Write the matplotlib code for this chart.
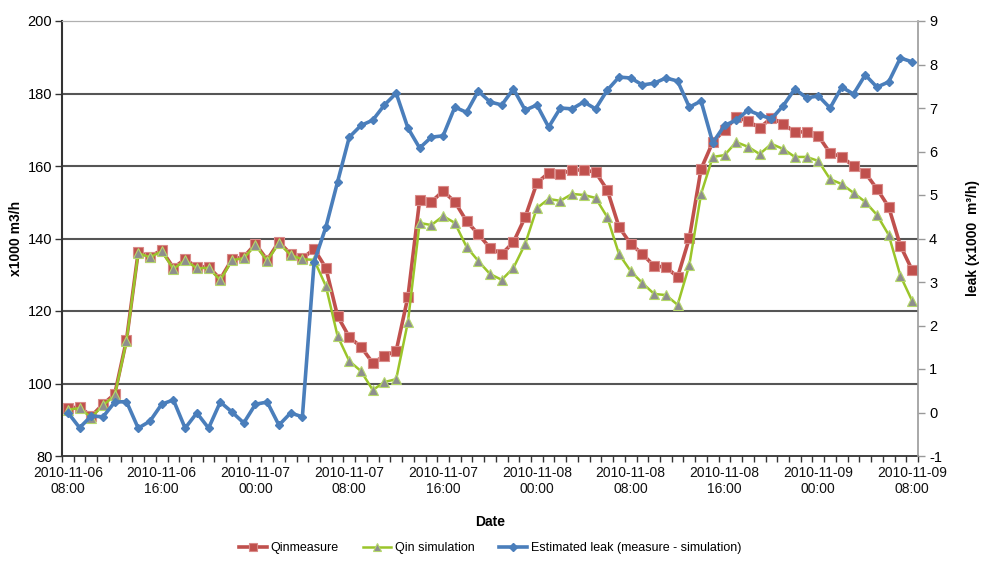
import matplotlib
matplotlib.use("Agg")
import matplotlib.pyplot as plt
from matplotlib.ticker import FixedLocator
import numpy as np

plt.rcParams['font.family'] = ['Liberation Sans', 'DejaVu Sans']
plt.rcParams['axes.unicode_minus'] = False

# hourly categories 2010-11-06 08:00 ... 2010-11-09 08:00 (73 points)
n_points = 73
tick_positions = [0, 8, 16, 24, 32, 40, 48, 56, 64, 72]
tick_labels = ["2010-11-06\n08:00", "2010-11-06\n16:00", "2010-11-07\n00:00",
               "2010-11-07\n08:00", "2010-11-07\n16:00", "2010-11-08\n00:00",
               "2010-11-08\n08:00", "2010-11-08\n16:00", "2010-11-09\n00:00",
               "2010-11-09\n08:00"]

q_measure = [93.2, 93.5, 91.0, 94.3, 97.1, 112.0, 136.3, 135.0, 136.8, 131.9,
             134.3, 132.1, 132.2, 128.8, 134.3, 134.9, 138.5, 134.1, 139.1, 135.7,
             134.5, 137.1, 131.9, 118.6, 112.8, 110.1, 105.7, 107.6, 109.0, 123.9,
             150.6, 150.1, 153.1, 150.1, 144.8, 141.2, 137.4, 135.7, 139.0, 145.9,
             155.3, 158.1, 157.8, 158.9, 158.9, 158.3, 153.4, 143.2, 138.5, 135.7,
             132.4, 132.1, 129.4, 140.1, 159.2, 166.6, 169.9, 173.4, 172.4, 170.5,
             173.3, 171.6, 169.4, 169.4, 168.3, 163.6, 162.5, 160.0, 158.1, 153.7,
             148.7, 138.0, 131.3]

q_simulation = [92.8, 93.2, 90.6, 94.0, 96.7, 111.7, 136.0, 134.8, 136.5, 131.6,
                134.0, 131.8, 131.9, 128.5, 134.0, 134.6, 138.2, 133.8, 138.8, 135.4,
                134.3, 134.1, 126.9, 113.1, 106.2, 103.4, 98.2, 100.4, 101.2, 117.0,
                144.3, 143.7, 146.2, 144.3, 137.7, 133.8, 130.2, 128.6, 131.9, 138.5,
                148.4, 150.9, 150.4, 152.3, 152.0, 151.2, 145.9, 135.7, 131.0, 127.7,
                124.7, 124.4, 121.7, 132.7, 152.3, 162.5, 163.0, 166.6, 165.3, 163.3,
                166.1, 164.7, 162.5, 162.5, 161.4, 156.4, 155.0, 152.6, 150.1, 146.5,
                141.0, 129.7, 122.8]

leak = [0.0, -0.35, -0.08, -0.10, 0.24, 0.25, -0.36, -0.20, 0.19, 0.29,
        -0.36, -0.01, -0.36, 0.24, 0.01, -0.24, 0.19, 0.24, -0.29, -0.01,
        -0.10, 3.46, 4.26, 5.30, 6.33, 6.60, 6.72, 7.07, 7.34, 6.54,
        6.08, 6.33, 6.36, 7.02, 6.90, 7.39, 7.14, 7.07, 7.44, 6.95,
        7.07, 6.56, 7.00, 6.98, 7.14, 6.98, 7.41, 7.71, 7.69, 7.53,
        7.57, 7.69, 7.62, 7.02, 7.16, 6.20, 6.60, 6.72, 6.95, 6.84,
        6.75, 7.05, 7.44, 7.23, 7.28, 7.00, 7.48, 7.32, 7.76, 7.48,
        7.60, 8.15, 8.06]

x = np.arange(n_points)

fig = plt.figure(figsize=(9.83, 5.65), dpi=100)
ax = fig.add_axes([62/983, 1-456/565, (918-62)/983, (456-21)/565])
ax2 = ax.twinx()

red = '#C0504D'
green = '#9BC52A'
blue = '#4A7EBB'

l1, = ax.plot(x, q_measure, color=red, lw=2.6, marker='s', ms=6.5,
              mfc=red, mec='#D98A88', mew=0.8, zorder=3)
l2, = ax.plot(x, q_simulation, color=green, lw=1.8, marker='^', ms=6.5,
              mfc='#8E8E8E', mec='#B5D86A', mew=0.8, zorder=4)
l3, = ax2.plot(x, leak, color=blue, lw=2.6, marker='D', ms=4.5,
               mfc=blue, mec=blue, zorder=5)

ax.set_xlim(-0.5, n_points - 0.5)
ax.set_ylim(80, 200)
ax2.set_ylim(-1, 9)

ax.set_yticks([80, 100, 120, 140, 160, 180, 200])
ax2.set_yticks(list(range(-1, 10)))

ax.set_xticks(tick_positions)
ax.set_xticklabels(tick_labels, fontsize=10)
ax.xaxis.set_minor_locator(FixedLocator(np.arange(-0.5, n_points, 1.0)))
ax.tick_params(axis='x', which='major', length=0, pad=7, colors='#111111')
ax.tick_params(axis='x', which='minor', length=4, width=1, color='#333333', direction='out')
ax.tick_params(axis='y', length=5, width=1, color='#333333', labelsize=10.5, pad=2)
ax2.tick_params(axis='y', length=5, width=1, color='#999999', labelsize=10.5, pad=3)

for yv in [100, 120, 140, 160, 180]:
    ax.axhline(yv, color='#555555', lw=1.5, zorder=1)

ax.spines['top'].set_color('#B0B0B0')
ax2.spines['top'].set_color('#B0B0B0')
ax.spines['left'].set_color('#333333')
ax.spines['left'].set_linewidth(1.5)
ax.spines['bottom'].set_color('#333333')
ax.spines['bottom'].set_linewidth(1.3)
ax2.spines['right'].set_color('#999999')
ax2.spines['right'].set_linewidth(1.2)
ax2.spines['left'].set_visible(False)
ax2.spines['bottom'].set_visible(False)
ax.spines['right'].set_visible(False)

ax.set_ylabel('x1000 m3/h', fontsize=10, fontweight='bold', labelpad=3)
ax2.set_ylabel('leak (x1000  m³/h)', fontsize=10, fontweight='bold', labelpad=17,
               rotation=90)
ax.set_xlabel('Date', fontsize=10, fontweight='bold', labelpad=14)

fig.legend([l1, l2, l3], ['Qinmeasure', 'Qin simulation',
                          'Estimated leak (measure - simulation)'],
           loc='center', bbox_to_anchor=(490/983, 1-548/565), ncol=3,
           frameon=False, fontsize=9, handlelength=2.2, columnspacing=2.0,
           handletextpad=0.3, markerscale=0.8)

fig.savefig('out.png', dpi=100)
